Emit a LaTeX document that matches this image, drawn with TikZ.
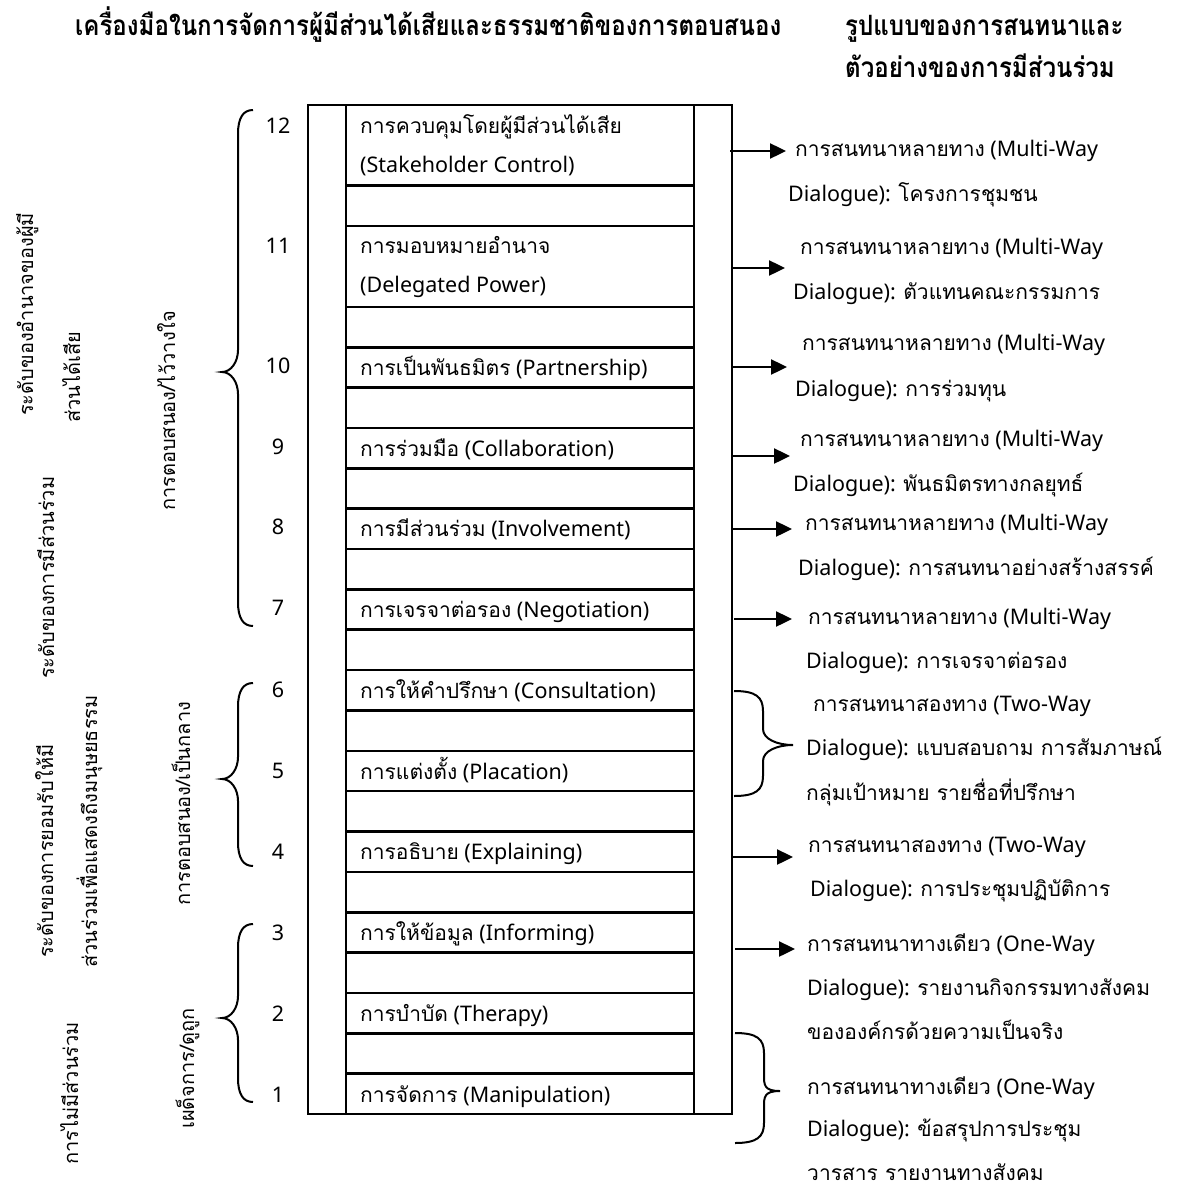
\documentclass[tikz,border=0pt]{standalone}
\usepackage{fontspec}
\newfontfamily\thai[Script=Thai]{Loma}
\newfontfamily\thaihead[Script=Thai,FakeStretch=0.86]{Loma}
\newfontfamily\latfont{Noto Sans}
\newcommand\lat[1]{{\latfont\fontsize{21.5}{25}\selectfont #1}}
\usetikzlibrary{arrows.meta}

% left curly brace: x of ends, top y, tip y, bottom y
\newcommand\leftcurl[4]{%
  \draw[curl] (#1,#2) .. controls ({#1-10},#2) and ({#1-15},{#2+8}) .. ({#1-15},{#2+24})
    -- ({#1-15},{#3-22}) .. controls ({#1-15},{#3-10}) and ({#1-22},#3) .. ({#1-31},#3)
    .. controls ({#1-22},#3) and ({#1-15},{#3+10}) .. ({#1-15},{#3+22})
    -- ({#1-15},{#4-24}) .. controls ({#1-15},{#4-8}) and ({#1-10},#4) .. (#1,#4);}
% right curly brace: x of ends, top y, tip y, bottom y, tip x
\newcommand\rightcurl[5]{%
  \draw[curl] (#1,#2) .. controls ({#1+22},#2) and ({#1+29},{#2+6}) .. ({#1+29},{#2+20})
    -- ({#1+29},{#3-16}) .. controls ({#1+29},{#3-6}) and ({#5-16},#3) .. (#5,#3)
    .. controls ({#5-16},#3) and ({#1+29},{#3+6}) .. ({#1+29},{#3+16})
    -- ({#1+29},{#4-20}) .. controls ({#1+29},{#4-6}) and ({#1+22},#4) .. (#1,#4);}

\tikzset{
  frame/.style={line width=2.6pt},
  rowbox/.style={draw, rectangle, line width=2.6pt, minimum width=348pt, inner sep=0pt},
  lbl/.style={font=\thai\fontsize{21}{25}\selectfont, anchor=west, inner sep=0pt,
              text height=10pt, text depth=0pt},
  num/.style={lbl, anchor=center},
  side/.style={lbl, font=\thai\fontsize{20}{24}\selectfont, rotate=90},
  head/.style={font=\thaihead\bfseries\fontsize{28}{32}\selectfont, anchor=west, inner sep=0pt,
               text height=12pt, text depth=0pt},
  curl/.style={line width=2pt},
  conn/.style={line width=2.4pt, -{Triangle[length=16pt,width=15pt]}},
}

\begin{document}
\begin{tikzpicture}[x=1pt,y=-1pt]
\useasboundingbox[fill=white] (0,0) rectangle (1176,1196);

% headings
\node[head] (h1) at (75,30) {เครื่องมือในการจัดการผู้มีส่วนได้เสียและธรรมชาติของการตอบสนอง};
\node[head] (h2) at (845,30) {รูปแบบของการสนทนาและ};
\node[head] (h3) at (845,72) {ตัวอย่างของการมีส่วนร่วม};

% ladder frame
\draw[frame] (308,105) rectangle (732,1114);
\draw[frame] (346,105) -- (346,1114);
\draw[frame] (694,105) -- (694,1114);

% rungs
\node[rowbox, minimum height=80.7pt] (r12) at (520,145.4) {};
\node[rowbox, minimum height=80.7pt] (r11) at (520,266.5) {};
\node[rowbox, minimum height=40.36pt] (r10) at (520,367.4) {};
\node[rowbox, minimum height=40.36pt] (r9) at (520,448.1) {};
\node[rowbox, minimum height=40.36pt] (r8) at (520,528.8) {};
\node[rowbox, minimum height=40.36pt] (r7) at (520,609.5) {};
\node[rowbox, minimum height=40.36pt] (r6) at (520,690.2) {};
\node[rowbox, minimum height=40.36pt] (r5) at (520,771.0) {};
\node[rowbox, minimum height=40.36pt] (r4) at (520,851.7) {};
\node[rowbox, minimum height=40.36pt] (r3) at (520,932.4) {};
\node[rowbox, minimum height=40.36pt] (r2) at (520,1013.1) {};
\node[rowbox, minimum height=40.36pt] (r1) at (520,1093.8) {};

% rung labels
\node[lbl] (t12a) at (360,129) {การควบคุมโดยผู้มีส่วนได้เสีย};
\node[lbl] (t12b) at (360,167) {\lat{(Stakeholder Control)}};
\node[lbl] (t11a) at (360,248) {การมอบหมายอำนาจ};
\node[lbl] (t11b) at (360,287) {\lat{(Delegated Power)}};
\node[lbl] (t10) at (360,370) {การเป็นพันธมิตร\lat{ (Partnership)}};
\node[lbl] (t9) at (360,451) {การร่วมมือ\lat{ (Collaboration)}};
\node[lbl] (t8) at (360,531) {การมีส่วนร่วม\lat{ (Involvement)}};
\node[lbl] (t7) at (360,612) {การเจรจาต่อรอง\lat{ (Negotiation)}};
\node[lbl] (t6) at (360,693) {การให้คำปรึกษา\lat{ (Consultation)}};
\node[lbl] (t5) at (360,774) {การแต่งตั้ง\lat{ (Placation)}};
\node[lbl] (t4) at (360,854) {การอธิบาย\lat{ (Explaining)}};
\node[lbl] (t3) at (360,935) {การให้ข้อมูล\lat{ (Informing)}};
\node[lbl] (t2) at (360,1016) {การบำบัด\lat{ (Therapy)}};
\node[lbl] (t1) at (360,1097) {การจัดการ\lat{ (Manipulation)}};

% rung numbers
\node[num] (n12) at (278,128) {\lat{12}};
\node[num] (n11) at (278,248) {\lat{11}};
\node[num] (n10) at (278,368) {\lat{10}};
\node[num] (n9) at (278,449) {\lat{9}};
\node[num] (n8) at (278,529) {\lat{8}};
\node[num] (n7) at (278,610) {\lat{7}};
\node[num] (n6) at (278,692) {\lat{6}};
\node[num] (n5) at (278,773) {\lat{5}};
\node[num] (n4) at (278,854) {\lat{4}};
\node[num] (n3) at (278,935) {\lat{3}};
\node[num] (n2) at (278,1016) {\lat{2}};
\node[num] (n1) at (278,1097) {\lat{1}};

% grouping braces on the left
\leftcurl{253}{110}{372}{626}
\leftcurl{253}{683}{779}{866}
\leftcurl{253}{924}{1018}{1102}

% rotated captions
\node[side] (c1a) at (28,416) {ระดับของอำนาจของผู้มี};
\node[side] (c1b) at (75,423) {ส่วนได้เสีย};
\node[side] (c2) at (49,679) {ระดับของการมีส่วนร่วม};
\node[side] (c3a) at (48,958) {ระดับของการยอมรับให้มี};
\node[side] (c3b) at (92,968) {ส่วนร่วมเพื่อแสดงถึงมนุษยธรรม};
\node[side] (c4) at (73,1165) {การไม่มีส่วนร่วม};
\node[side] (g1) at (170,511) {การตอบสนอง/ไว้วางใจ};
\node[side] (g2) at (185,906) {การตอบสนอง/เป็นกลาง};
\node[side] (g3) at (189,1129) {เผด็จการ/ดูถูก};

% dialogue forms on the right
\node[lbl] (d1a) at (795,151) {การสนทนาหลายทาง\lat{ (Multi-Way}};
\node[lbl] (d1b) at (788,196) {\lat{Dialogue): }โครงการชุมชน};
\node[lbl] (d2a) at (800,249) {การสนทนาหลายทาง\lat{ (Multi-Way}};
\node[lbl] (d2b) at (793,294) {\lat{Dialogue): }ตัวแทนคณะกรรมการ};
\node[lbl] (d3a) at (802,345) {การสนทนาหลายทาง\lat{ (Multi-Way}};
\node[lbl] (d3b) at (795,391) {\lat{Dialogue): }การร่วมทุน};
\node[lbl] (d4a) at (800,441) {การสนทนาหลายทาง\lat{ (Multi-Way}};
\node[lbl] (d4b) at (793,486) {\lat{Dialogue): }พันธมิตรทางกลยุทธ์};
\node[lbl] (d5a) at (805,525) {การสนทนาหลายทาง\lat{ (Multi-Way}};
\node[lbl] (d5b) at (798,570) {\lat{Dialogue): }การสนทนาอย่างสร้างสรรค์};
\node[lbl] (d6a) at (808,619) {การสนทนาหลายทาง\lat{ (Multi-Way}};
\node[lbl] (d6b) at (806,663) {\lat{Dialogue): }การเจรจาต่อรอง};
\node[lbl] (d7a) at (813,706) {การสนทนาสองทาง\lat{ (Two-Way}};
\node[lbl] (d7b) at (806,750) {\lat{Dialogue): }แบบสอบถาม การสัมภาษณ์};
\node[lbl] (d7c) at (806,795) {กลุ่มเป้าหมาย รายชื่อที่ปรึกษา};
\node[lbl] (d8a) at (808,847) {การสนทนาสองทาง\lat{ (Two-Way}};
\node[lbl] (d8b) at (810,891) {\lat{Dialogue): }การประชุมปฏิบัติการ};
\node[lbl] (d9a) at (807,946) {การสนทนาทางเดียว\lat{ (One-Way}};
\node[lbl] (d9b) at (807,990) {\lat{Dialogue): }รายงานกิจกรรมทางสังคม};
\node[lbl] (d9c) at (807,1034) {ขององค์กรด้วยความเป็นจริง};
\node[lbl] (d10a) at (807,1089) {การสนทนาทางเดียว\lat{ (One-Way}};
\node[lbl] (d10b) at (807,1131) {\lat{Dialogue): }ข้อสรุปการประชุม};
\node[lbl] (d10c) at (807,1175) {วารสาร รายงานทางสังคม};

% arrows from the ladder to the dialogue forms
\coordinate (s12) at (730,151);  \coordinate (e12) at (786,151);
\coordinate (s11) at (731,268);  \coordinate (e11) at (785,268);
\coordinate (s10) at (731,367);  \coordinate (e10) at (787,367);
\coordinate (s9)  at (732,456);  \coordinate (e9)  at (790,456);
\coordinate (s8)  at (732,529);  \coordinate (e8)  at (792,529);
\coordinate (s7)  at (734,619);  \coordinate (e7)  at (792,619);
\coordinate (s4)  at (732,857);  \coordinate (e4)  at (793,857);
\coordinate (s3)  at (735,949);  \coordinate (e3)  at (795,949);
\foreach \k in {12,11,10,9,8,7,4,3} \draw[conn] (s\k) -- (e\k);

% grouping braces on the right
\rightcurl{734}{691}{745}{796}{793}
\rightcurl{735}{1033}{1091}{1143}{780}
\end{tikzpicture}
\end{document}
